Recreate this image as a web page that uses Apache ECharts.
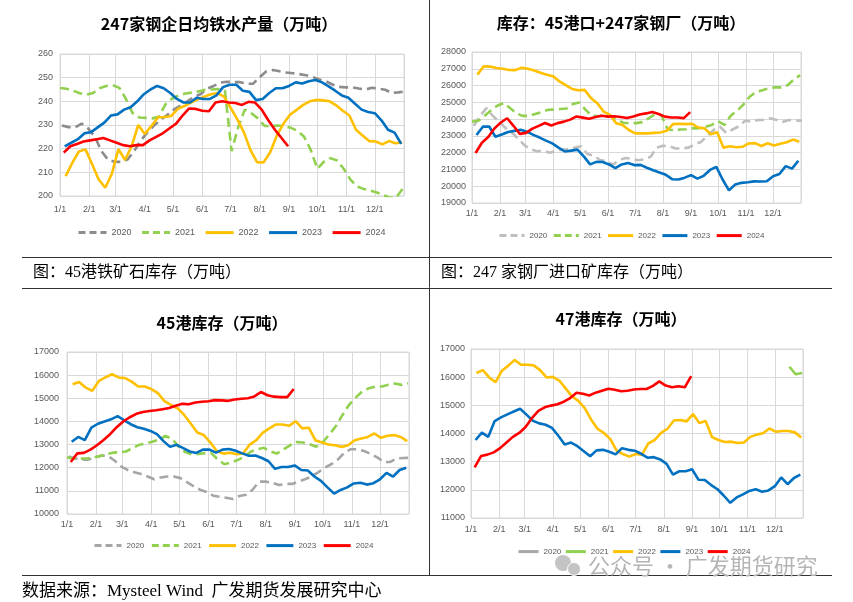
<!DOCTYPE html>
<html><head><meta charset="utf-8">
<script src="https://cdn.jsdelivr.net/npm/echarts@6/dist/echarts.min.js"></script>
<style>html,body{margin:0;padding:0;background:#fff;}#c{width:853px;height:602px;}</style>
</head><body><div id="c"></div>
<script>
// ---------- data ----------
const years = ['2020', '2021', '2022', '2023', '2024'];
const monthTickLabels = ['1/1','2/1','3/1','4/1','5/1','6/1','7/1','8/1','9/1','10/1','11/1','12/1'];

// Panel 1: 247家钢企日均铁水产量（万吨）
const p1_2020 = [229.8,229.1,229,230.6,228.5,225,219,215.3,214.5,214.4,215.5,219.2,223.6,227,229.9,232.2,234.3,236.6,238.2,240,241.9,243,245.3,246.5,247.9,248.3,248.1,248.1,247.4,247.5,250.3,252.7,253.2,252.7,252.2,251.9,251.5,251,250.3,249.2,248.5,247.1,246.1,245.9,245.9,245.4,245,245.7,245.4,244.9,243.5,243.8,244.2];
const p1_2021 = [245.6,245.3,244.5,243.4,242.8,243.5,245.5,246.5,246.8,245.7,241,235,233.2,233,232.8,233.5,238.8,241.2,242.5,243.3,243.7,244.2,244.9,245,245.2,244.5,219,229,236.5,235,232.8,229.6,229.6,229.8,229.5,228.8,227.5,225,219.5,211.5,214.5,216,215,211.5,207,204,203,202.3,201.5,200.5,199.2,199.5,203.3];
const p1_2022 = [208.4,214,218.8,219.7,213.5,207,203.5,209.4,219.8,215.2,221,230,226.2,229.6,233.3,233.4,233.8,236.8,238,239.5,240.8,242,243,243.5,242,237.3,232.5,227,219.5,214.3,214.2,218.5,225.5,230.5,234.3,236.4,238.5,240,240.6,240.4,240,238.3,236,234,228,225.6,223.2,223,221.8,223.2,222.3,222.6];
const p1_2023 = [221,222.5,224,226.5,227,229,231,234,234.5,236.5,237.5,240,243,245,246.5,245.5,243.5,241,239.5,239.5,241.5,241,241,242.5,246,247,247,244.5,244,240.5,241,243.5,245.5,245.5,246.5,248,247.5,248.5,249,248,246.3,244.5,242.5,241.5,239,236.5,235.5,235,232,228,226.8,222];
const p1_2024 = [218.3,221,222,223,223.5,224,224.5,223.5,222.5,221.5,221,221.5,221.5,223.5,225,226.5,228.5,230.5,234,237,236.8,236,235.8,239.5,240,239.5,239.3,238.5,239.8,239.5,236.5,232,228,224.5,221];

// Panel 2: 库存：45港口+247家钢厂（万吨）
const p2_2020 = [23600,24200,24650,24200,23850,23480,23200,22850,22450,22200,22080,22120,21990,22100,22180,22200,22300,22380,21920,21820,21560,21500,21280,21540,21680,21640,21550,21600,21750,22300,22410,22380,22250,22250,22300,22500,22640,23000,23350,23550,23180,23380,23570,23900,23850,23950,23950,24050,23950,23850,23950,23920,23900];
const p2_2021 = [23850,23900,24200,24520,24800,24960,24670,24350,24190,24190,24300,24420,24550,24570,24600,24630,24900,24990,24550,24200,24170,24230,24200,23990,23770,23770,23760,23820,24050,24290,24240,23400,23320,23380,23400,23450,23460,23550,23650,23870,23650,24200,24500,24860,25330,25620,25720,25840,25890,25890,26020,26360,26620];
const p2_2022 = [26650,27150,27130,27050,27000,26930,26920,27060,27000,26900,26760,26650,26550,26250,26020,25800,25720,25740,25250,24950,24450,24250,23750,23650,23350,23150,23150,23150,23180,23200,23300,23700,23720,23700,23720,23500,23450,23100,23220,22300,22380,22320,22350,22550,22570,22400,22560,22430,22530,22620,22780,22650];
const p2_2023 = [23050,23550,23560,22950,23080,23230,23300,23360,23250,23060,22900,22720,22550,22300,22070,22120,22180,21780,21300,21450,21440,21300,21080,21300,21380,21260,21270,21100,20950,20820,20680,20420,20400,20510,20660,20450,20620,20970,21150,20400,19750,20100,20200,20240,20290,20280,20300,20600,20730,21200,21050,21520];
const p2_2024 = [21980,22590,22930,23450,23800,24050,23600,23120,23180,23430,23600,23770,23620,23760,23850,23970,24160,24090,24020,24120,24200,24150,24170,24130,24070,24150,24280,24340,24420,24300,24150,24100,24100,24060,24420];

// Panel 3: 45港库存（万吨）
const p3_2020 = [12480,12400,12350,12350,12450,12530,12500,12300,12050,11900,11800,11730,11620,11500,11580,11620,11620,11550,11380,11200,11050,10950,10790,10740,10700,10650,10780,10830,11050,11400,11400,11350,11250,11300,11300,11400,11500,11620,11800,12000,12150,12350,12650,12800,12800,12720,12600,12450,12250,12250,12400,12420,12430];
const p3_2021 = [12450,12390,12390,12400,12440,12500,12580,12650,12670,12700,12850,12990,13050,13120,13220,13370,13250,12920,12680,12580,12590,12630,12630,12350,12150,12220,12330,12470,12690,12800,12860,12710,12610,12800,12970,13110,13090,13010,12910,13100,13440,13800,14280,14720,15030,15290,15430,15500,15510,15590,15640,15580,15650];
const p3_2022 = [15610,15700,15460,15320,15750,15900,16040,15900,15870,15720,15510,15510,15400,15220,14880,14710,14570,14280,13910,13520,13410,13090,12710,12610,12650,12580,12620,13000,13190,13520,13700,13870,13870,13810,14010,13700,13730,13190,13090,13000,12970,12900,12970,13190,13260,13330,13480,13290,13380,13410,13330,13150];
const p3_2023 = [13120,13330,13190,13730,13900,14000,14090,14230,14050,13880,13750,13680,13590,13450,13150,12900,12990,12850,12700,12640,12780,12780,12650,12780,12810,12730,12620,12520,12530,12420,12280,11950,12030,12030,12100,11900,11880,11620,11430,11150,10880,11040,11150,11320,11350,11270,11330,11500,11780,11620,11900,12000];
const p3_2024 = [12250,12620,12640,12780,12970,13200,13450,13750,14000,14180,14330,14410,14450,14480,14530,14580,14680,14760,14740,14820,14850,14870,14920,14910,14890,14950,14980,15000,15080,15270,15130,15070,15050,15050,15400];

// Panel 4: 47港库存（万吨）
const p4_2020 = [];
const p4_2021 = Array(50).fill(null).concat([16370,16100,16150]);
const p4_2022 = [16150,16250,15990,15820,16230,16410,16610,16440,16440,16420,16250,15990,16010,15880,15600,15320,15160,14900,14500,14170,14020,13810,13400,13270,13180,13270,13250,13650,13770,14020,14170,14460,14480,14430,14690,14370,14440,13870,13770,13700,13710,13660,13680,13880,13960,14010,14180,14060,14090,14090,14040,13860];
const p4_2023 = [13770,14030,13880,14440,14570,14680,14780,14880,14670,14450,14360,14310,14200,13920,13610,13680,13550,13370,13190,13400,13420,13350,13260,13480,13420,13390,13280,13140,13160,13080,12920,12540,12660,12660,12730,12360,12350,12170,12020,11790,11540,11730,11840,11960,12020,11930,11980,12130,12440,12200,12420,12540];
const p4_2024 = [12800,13200,13250,13330,13480,13680,13880,14020,14230,14550,14800,14930,14990,15040,15130,15260,15450,15410,15350,15450,15520,15590,15550,15500,15520,15560,15580,15580,15690,15850,15700,15640,15680,15640,16040];

// ---------- helpers ----------
const DAY = 86400000;
const REF = new Date(2023, 0, 1).getTime();
const AXIS_MAX = new Date(2023, 11, 31, 23).getTime();
// weekly data is dated on Fridays of its own year, placed on a common month/day axis
function fridayOffset(y) { return (5 - new Date(+y, 0, 1).getDay() + 7) % 7; }
function toPoints(year, values) {
  const off = fridayOffset(year);
  const pts = [];
  values.forEach((v, i) => { if (v != null) pts.push([REF + (off + 7 * i) * DAY, v]); });
  return pts;
}

const panels = [
  { title: '247家钢企日均铁水产量（万吨）', tx: 219, ty: 24,
    data: [p1_2020, p1_2021, p1_2022, p1_2023, p1_2024],
    colors: ['#8C8C8C', '#92D050', '#FFC000', '#0070C0', '#FF0000'],
    dashed: [true, true, false, false, false],
    grid: { left: 60, top: 54, width: 344, height: 142 },
    y: { min: 200, max: 260, interval: 10, margin: 7 }, xMargin: 9,
    legend: { left: 77, top: 227, itemWidth: 28, itemGap: 9, fontSize: 9 } },
  { title: '库存：45港口+247家钢厂（万吨）', tx: 621, ty: 23,
    data: [p2_2020, p2_2021, p2_2022, p2_2023, p2_2024],
    colors: ['#BFBFBF', '#92D050', '#FFC000', '#0070C0', '#FF0000'],
    dashed: [true, true, false, false, false],
    grid: { left: 472, top: 52, width: 329, height: 151 },
    y: { min: 19000, max: 28000, interval: 1000, margin: 6 }, xMargin: 6,
    legend: { left: 498, top: 230, itemWidth: 25, itemGap: 5, fontSize: 8 } },
  { title: '45港库存（万吨）', tx: 222, ty: 323,
    data: [p3_2020, p3_2021, p3_2022, p3_2023, p3_2024],
    colors: ['#A6A6A6', '#92D050', '#FFC000', '#0070C0', '#FF0000'],
    dashed: [true, true, false, false, false],
    grid: { left: 67, top: 352, width: 342, height: 162 },
    y: { min: 10000, max: 17000, interval: 1000, margin: 8 }, xMargin: 6,
    legend: { left: 93, top: 540, itemWidth: 27, itemGap: 6, fontSize: 8 } },
  { title: '47港库存（万吨）', tx: 621, ty: 319,
    data: [p4_2020, p4_2021, p4_2022, p4_2023, p4_2024],
    colors: ['#A6A6A6', '#92D050', '#FFC000', '#0070C0', '#FF0000'],
    dashed: [false, false, false, false, false],
    grid: { left: 471, top: 349, width: 332, height: 169 },
    y: { min: 11000, max: 17000, interval: 1000, margin: 6 }, xMargin: 7,
    legend: { left: 517, top: 546, itemWidth: 20, itemGap: 3, fontSize: 8 } }
];

const LABEL_COLOR = '#595959';
const GRID_COLOR = '#D9D9D9';
const DASH = [9, 5];

const grid = [], xAxis = [], yAxis = [], series = [], legend = [], graphic = [];

panels.forEach((p, k) => {
  grid.push(Object.assign({ show: true, borderColor: GRID_COLOR, borderWidth: 1, outerBoundsMode: 'none' }, p.grid));
  xAxis.push({
    type: 'time', gridIndex: k, min: REF, max: AXIS_MAX, splitNumber: 12,
    minInterval: 28 * DAY, maxInterval: 31 * DAY,
    axisLine: { show: false }, axisTick: { show: false },
    splitLine: { show: true, lineStyle: { color: GRID_COLOR, width: 1 } },
    axisLabel: {
      margin: p.xMargin, color: LABEL_COLOR, fontSize: 9, fontFamily: 'Liberation Sans',
      hideOverlap: false,
      formatter: function (v) { const d = new Date(v); return d.getDate() === 1 ? monthTickLabels[d.getMonth()] : ''; }
    }
  });
  yAxis.push({
    type: 'value', gridIndex: k, min: p.y.min, max: p.y.max, interval: p.y.interval,
    axisLine: { show: false }, axisTick: { show: false },
    splitLine: { show: true, lineStyle: { color: GRID_COLOR, width: 1 } },
    axisLabel: { margin: p.y.margin, color: LABEL_COLOR, fontSize: 9, fontFamily: 'Liberation Sans',
      formatter: function (v) { return String(v); } }
  });
  years.forEach((y, j) => {
    series.push({
      type: 'line', name: y, xAxisIndex: k, yAxisIndex: k,
      data: toPoints(y, p.data[j]),
      symbol: 'none', smooth: false, clip: true, z: 2 + j,
      lineStyle: { color: p.colors[j], width: 2.6, type: p.dashed[j] ? DASH : 'solid' },
      itemStyle: { color: p.colors[j] },
      emphasis: { disabled: true }
    });
  });
  legend.push({
    left: p.legend.left, top: p.legend.top, orient: 'horizontal', padding: 0,
    itemWidth: p.legend.itemWidth, itemHeight: 14, itemGap: p.legend.itemGap,
    selectedMode: false,
    textStyle: { color: LABEL_COLOR, fontSize: p.legend.fontSize, fontFamily: 'Liberation Sans' },
    data: years.map((y, j) => ({
      name: y,
      itemStyle: { color: 'rgba(0,0,0,0)', borderWidth: 0, opacity: 0 },
      lineStyle: { color: p.colors[j], width: 3, type: p.dashed[j] ? [7, 4] : 'solid' }
    }))
  });
  graphic.push({
    type: 'text', x: p.tx, y: p.ty, z: 10,
    style: { text: p.title, fill: '#000', fontSize: 16, fontWeight: 'bold',
      fontFamily: '"Noto Sans CJK SC", sans-serif', align: 'center', verticalAlign: 'middle' }
  });
});

// frame lines, captions, source, watermark
const LINE = '#333';
graphic.push(
  { type: 'line', shape: { x1: 429.5, y1: 0, x2: 429.5, y2: 575 }, style: { stroke: LINE, lineWidth: 1 } },
  { type: 'line', shape: { x1: 22, y1: 257.5, x2: 832, y2: 257.5 }, style: { stroke: LINE, lineWidth: 1 } },
  { type: 'line', shape: { x1: 22, y1: 288.5, x2: 832, y2: 288.5 }, style: { stroke: LINE, lineWidth: 1 } },
  { type: 'line', shape: { x1: 22, y1: 575.5, x2: 832, y2: 575.5 }, style: { stroke: LINE, lineWidth: 1 } },
  { type: 'text', x: 33, y: 273, style: { text: '图：45港铁矿石库存（万吨）', fill: '#000', fontSize: 16,
      fontFamily: '"Liberation Serif", "Noto Sans CJK SC"', verticalAlign: 'middle' } },
  { type: 'text', x: 441, y: 273, style: { text: '图：247 家钢厂进口矿库存（万吨）', fill: '#000', fontSize: 16,
      fontFamily: '"Liberation Serif", "Noto Sans CJK SC"', verticalAlign: 'middle' } },
  { type: 'text', x: 22, y: 592, style: { text: '数据来源：Mysteel Wind  广发期货发展研究中心', fill: '#000', fontSize: 17,
      fontFamily: '"Liberation Serif", "Noto Sans CJK SC"', verticalAlign: 'middle' } },
  { type: 'circle', shape: { cx: 563, cy: 563, r: 8 }, style: { fill: '#C4C4C4' }, z: 20 },
  { type: 'circle', shape: { cx: 574, cy: 569, r: 6.5 }, style: { fill: '#C4C4C4', stroke: '#fff', lineWidth: 1 }, z: 21 },
  { type: 'text', x: 588, y: 566, z: 20, style: { text: '公众号 · 广发期货研究', fill: '#B5B5B5', fontSize: 22,
      fontFamily: '"Noto Sans CJK SC", sans-serif', verticalAlign: 'middle' } }
);

const chart = echarts.init(document.getElementById('c'), null, { renderer: 'canvas' });
chart.setOption({
  animation: false,
  backgroundColor: '#fff',
  tooltip: { show: false },
  grid, xAxis, yAxis, series, legend, graphic
});
</script>
</body></html>
